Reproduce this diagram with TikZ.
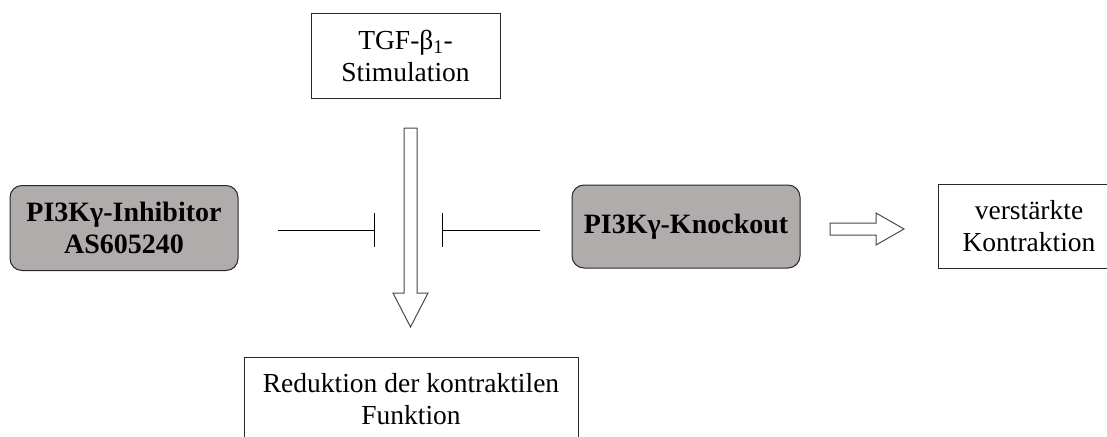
\documentclass[tikz,border=0pt]{standalone}
\usepackage{fontspec}
\setmainfont{Liberation Serif}
\usetikzlibrary{arrows.meta,calc}
\definecolor{boxgray}{RGB}{176,172,171}
\definecolor{edgecol}{RGB}{40,40,40}
\begin{document}
\begin{tikzpicture}[x=1pt,y=-1pt,
  txt/.style={font=\fontsize{27.5}{31.5}\selectfont, align=center, inner sep=0pt},
  plainbox/.style={txt, draw=edgecol, line width=1pt, fill=white},
  graybox/.style={txt, draw=edgecol, line width=1pt, fill=boxgray, rounded corners=12pt, font=\fontsize{28}{32}\selectfont\bfseries},
  inhib/.style={line width=0.8pt, -{Bar[width=34pt,line width=0.8pt]}},
  hollow/.style={draw=edgecol!85, line width=1pt, fill=white, line join=miter}]
\useasboundingbox (0,0) rectangle (1107,436);
\clip (0,0) rectangle (1107,436);
\fill[white] (0,0) rectangle (1107,436);

\node[plainbox, minimum width=189pt, minimum height=84pt] (tgf) at (405.5,56) {TGF-β\textsubscript{1}-\\Stimulation};
\node[graybox, minimum width=228pt, minimum height=85pt] (inh) at (124,228) {PI3Kγ-Inhibitor\\AS605240};
\node[graybox, minimum width=228pt, minimum height=83pt] (ko) at (686,226.5) {PI3Kγ-Knockout};
\node[plainbox, minimum width=182pt, minimum height=84pt] (ver) at (1029,226) {verstärkte\\Kontraktion};
\node[plainbox, minimum width=334pt, minimum height=84pt] (red) at (411,399) {Reduktion der kontraktilen\\Funktion};

% vertical hollow arrow
\draw[hollow] (404,128) -- (417,128) -- (417,293) -- (428,293) -- (410.5,327) -- (393,293) -- (404,293) -- cycle;
% horizontal hollow arrow
\draw[hollow] (830,223) -- (876,223) -- (876,213) -- (904,229) -- (876,245) -- (876,235) -- (830,235) -- cycle;

% inhibition lines
\coordinate (la) at (278,230);
\coordinate (lb) at (375,230);
\coordinate (ra) at (540,230);
\coordinate (rb) at (442,230);
\draw[inhib] (la) -- (lb);
\draw[inhib] (ra) -- (rb);
\end{tikzpicture}
\end{document}
